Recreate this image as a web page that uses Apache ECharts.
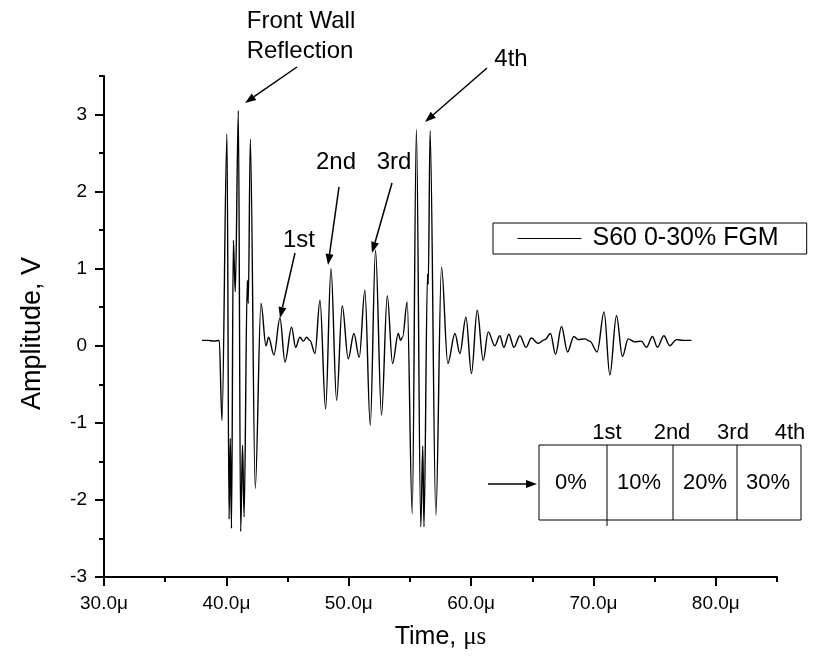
<!DOCTYPE html>
<html><head><meta charset="utf-8">
<script src="https://cdn.jsdelivr.net/npm/echarts@6/dist/echarts.min.js"></script>
<style>html,body{margin:0;padding:0;background:#fff}#c{width:814px;height:656px}</style>
</head><body><div id="c"></div>
<script>
// ---- data (time in microseconds, amplitude in volts) ----
const timeUs = [38.0,38.5,39.0,39.42,39.64,40.05,40.22,40.32,40.42,40.57,40.73,40.98,41.17,41.32,41.45,41.71,41.79,41.96,42.36,42.83,43.24,43.45,43.89,44.38,44.79,45.33,45.66,46.01,46.29,46.56,46.83,47.24,47.65,48.11,48.55,49.01,49.47,49.96,50.42,50.86,51.32,51.76,52.19,52.68,53.15,53.58,54.05,54.23,54.4,54.78,55.19,55.53,55.89,56.05,56.15,56.44,56.5,56.65,57.12,57.58,58.10,58.68,59.08,59.58,60.03,60.50,60.99,61.40,61.94,62.35,62.68,63.09,63.5,63.99,64.48,64.93,65.47,66.03,66.49,66.9,67.39,67.88,68.4,68.75,69.3,69.7,70.3,70.87,71.34,71.88,72.37,72.84,73.38,73.92,74.33,74.82,75.23,75.75,76.24,76.78,77.32,78.0];
const amplitudeV = [0.07,0.07,0.06,0.07,-0.97,2.75,-2.25,-1.2,-2.37,1.37,0.70,3.05,-2.41,-1.29,-2.22,0.85,0.55,2.68,-1.85,0.55,0.0,0.11,-0.12,0.36,-0.21,0.24,-0.02,0.11,0.06,0.11,0.07,-0.10,0.59,-0.82,1.00,-0.71,0.52,-0.17,0.16,-0.15,0.72,-1.03,1.24,-0.90,0.65,-0.23,0.16,0.07,0.11,0.57,-2.18,2.81,-2.35,-1.3,-2.35,0.93,0.80,2.79,-2.20,1.02,-0.23,0.16,-0.10,0.37,-0.36,0.46,-0.19,0.18,0.0,0.13,-0.02,0.15,-0.02,0.13,-0.02,0.10,0.03,0.08,0.16,-0.11,0.25,-0.08,0.12,0.08,0.09,0.06,-0.08,0.44,-0.38,0.39,-0.14,0.09,0.05,0.06,-0.02,0.12,-0.02,0.13,0.0,0.08,0.07,0.07];
const seriesName = 'S60 0-30% FGM';
const xMajorTicks = [30,40,50,60,70,80];
const xTickLabels = ['30.0\u03bc','40.0\u03bc','50.0\u03bc','60.0\u03bc','70.0\u03bc','80.0\u03bc'];
const xMinorTicks = [35,45,55,65,75,85];
const yMajorTicks = [-3,-2,-1,0,1,2,3];
const yTickLabels = ['-3','-2','-1','0','1','2','3'];
const yMinorTicks = [-2.5,-1.5,-0.5,0.5,1.5,2.5,3.5];
const echoLabels = ['1st','2nd','3rd','4th'];
const layerLabels = ['0%','10%','20%','30%'];
const frontWallText = ['Front Wall','Reflection'];

// ---- build ----
const FONT = 'Liberation Sans, Arial, sans-serif';
const chart = echarts.init(document.getElementById('c'), null, {renderer:'canvas'});
const pts = timeUs.map((t,i)=>[t, amplitudeV[i]]);
const axisCommon = {type:'value', splitLine:{show:false}};
const blk = '#000';

function arrow(x1,y1,x2,y2){
  const dx=x2-x1, dy=y2-y1, L=Math.hypot(dx,dy), ux=dx/L, uy=dy/L;
  const hl=11, hw=4;
  const bx=x2-ux*hl, by=y2-uy*hl;
  return [
    {type:'line', shape:{x1:x1,y1:y1,x2:bx,y2:by}, style:{stroke:blk,lineWidth:1.5}},
    {type:'polygon', shape:{points:[[x2,y2],[bx-uy*hw,by+ux*hw],[bx+uy*hw,by-ux*hw]]}, style:{fill:blk}}
  ];
}
function txt(x,y,s,size){
  return {type:'text', x:x, y:y, style:{text:s, font:size+'px '+FONT, fill:blk, align:'center', verticalAlign:'middle'}};
}

const graphics = [];
graphics.push(txt(301,21,frontWallText[0],24), txt(300,51,frontWallText[1],24));
graphics.push(...arrow(297,67,245,103));
graphics.push(txt(299,240,echoLabels[0],24), ...arrow(295,253,280,318));
graphics.push(txt(336,162,echoLabels[1],24), ...arrow(339,187,328,265));
graphics.push(txt(394,162,echoLabels[2],24), ...arrow(392,183,372,253));
graphics.push(txt(511,59,echoLabels[3],24), ...arrow(487,68,425,122));
// inset table
const tx=[539,607,673,737,801];
graphics.push({type:'rect', shape:{x:539,y:445,width:262,height:75}, style:{fill:'none',stroke:blk,lineWidth:1}});
[1,2,3].forEach(i=>graphics.push({type:'line', shape:{x1:tx[i],y1:445,x2:tx[i],y2:i===1?526:520}, style:{stroke:blk,lineWidth:1}}));
const hdrX=[607,672,733,790];
echoLabels.forEach((s,i)=>graphics.push(txt(hdrX[i],433,s,22)));
const cellX=[571,639,705,768];
layerLabels.forEach((s,i)=>graphics.push(txt(cellX[i],483,s,22)));
graphics.push(...arrow(488,484,537,484));

const option = {
  backgroundColor:'#fff',
  animation:false,
  textStyle:{fontFamily:FONT},
  grid:{left:104, right:37, top:76, bottom:79, containLabel:false},
  legend:{
    data:[seriesName], left:493, top:223, orient:'horizontal',
    borderColor:blk, borderWidth:1, padding:[3,28,3,24],
    itemWidth:64, itemHeight:12, itemGap:0,
    itemStyle:{opacity:0},
    lineStyle:{color:blk,width:1},
    textStyle:{fontSize:25, color:blk, fontFamily:FONT, padding:[0,0,0,6]}
  },
  xAxis:[
    Object.assign({}, axisCommon, {min:30,max:85,position:'bottom',
      axisLine:{show:true,onZero:false,lineStyle:{color:blk,width:2}},
      axisTick:{show:true,customValues:xMajorTicks,length:9,lineStyle:{color:blk,width:2}},
      axisLabel:{show:true,customValues:xMajorTicks,margin:17,fontSize:19,color:blk,fontFamily:FONT,
        formatter:v=>{const i=xMajorTicks.indexOf(v);return i>=0?xTickLabels[i]:'';}},
      name:'Time, {s|\u03bcs}', nameLocation:'middle', nameGap:48,
      nameTextStyle:{fontSize:25,color:blk,fontFamily:FONT,rich:{s:{fontSize:25,fontFamily:'Liberation Serif, Times New Roman, serif',color:blk}}}
    }),
    Object.assign({}, axisCommon, {min:30,max:85,position:'bottom',
      axisLine:{show:false,onZero:false},
      axisTick:{show:true,customValues:xMinorTicks,length:5,lineStyle:{color:blk,width:2}},
      axisLabel:{show:false}
    })
  ],
  yAxis:[
    Object.assign({}, axisCommon, {min:-3,max:3.5,position:'left',
      axisLine:{show:true,onZero:false,lineStyle:{color:blk,width:2}},
      axisTick:{show:true,customValues:yMajorTicks,length:9,lineStyle:{color:blk,width:2}},
      axisLabel:{show:true,customValues:yMajorTicks,margin:17,fontSize:19,color:blk,fontFamily:FONT,
        formatter:v=>{const i=yMajorTicks.indexOf(v);return i>=0?yTickLabels[i]:'';}},
      name:'Amplitude, V', nameLocation:'middle', nameGap:58, nameRotate:90,
      nameTextStyle:{fontSize:27,color:blk,fontFamily:FONT,padding:[0,14,0,0]}
    }),
    Object.assign({}, axisCommon, {min:-3,max:3.5,position:'left',
      axisLine:{show:false,onZero:false},
      axisTick:{show:true,customValues:yMinorTicks,length:5,lineStyle:{color:blk,width:2}},
      axisLabel:{show:false}
    })
  ],
  series:[{
    name:seriesName, type:'line', data:pts, xAxisIndex:0, yAxisIndex:0,
    symbol:'none', smooth:0.35, smoothMonotone:'x',
    lineStyle:{color:blk,width:1.4}, itemStyle:{color:blk}
  }],
  graphic:graphics
};
chart.setOption(option);
</script></body></html>
